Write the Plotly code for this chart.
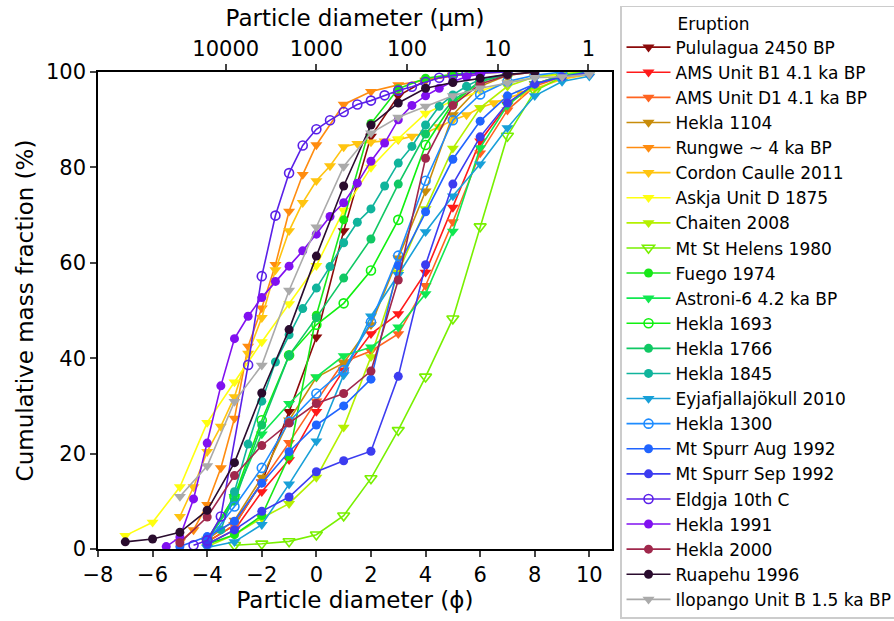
import math
import plotly.graph_objects as go

# Grain-size distributions: cumulative mass fraction (%) vs particle diameter (phi)
names = [
    "Pululagua 2450 BP", "AMS Unit B1 4.1 ka BP", "AMS Unit D1 4.1 ka BP", "Hekla 1104",
    "Rungwe ~ 4 ka BP", "Cordon Caulle 2011", "Askja Unit D 1875", "Chaiten 2008",
    "Mt St Helens 1980", "Fuego 1974", "Astroni-6 4.2 ka BP", "Hekla 1693", "Hekla 1766",
    "Hekla 1845", "Eyjafjallajökull 2010", "Hekla 1300", "Mt Spurr Aug 1992",
    "Mt Spurr Sep 1992", "Eldgja 10th C", "Hekla 1991", "Hekla 2000", "Ruapehu 1996",
    "Ilopango Unit B 1.5 ka BP",
]

pululagua_phi = [-4, -3, -2, -1, 0, 1, 2, 3, 4, 5, 6, 7]
pululagua_pct = [1.5, 5, 14, 28.8, 44.4, 66.7, 86.5, 95, 98.2, 99.3, 99.8, 100]

ams_b1_phi = [-4, -3, -2, -1, 0, 1, 2, 3, 4, 5, 6, 7, 8, 9, 10]
ams_b1_pct = [1, 4, 12, 18.7, 28.8, 37.5, 45.1, 49.3, 58, 71.6, 85.5, 93.2, 97.5, 99.3, 100]

ams_d1_phi = [-4, -3, -2, -1, 0, 1, 2, 3, 4, 5, 6, 7, 8, 9, 10]
ams_d1_pct = [1.5, 5, 14, 22.3, 31, 39.2, 41.5, 45.1, 55.2, 68.6, 83, 92, 97, 99, 100]

hekla1104_phi = [-4, -3, -2, -1, 0, 1, 2, 3, 4, 5, 6, 7, 8]
hekla1104_pct = [2, 6, 15, 27, 36, 39, 47, 61, 75, 91, 97, 99.3, 100]

rungwe_phi = [-5, -4.5, -4, -3.5, -3, -2.5, -2, -1.5, -1, -0.5, 0, 1, 2, 3, 4, 5, 6]
rungwe_pct = [1.5, 4, 9.3, 17, 27.4, 42.5, 50.5, 59.6, 70.8, 78.5, 84.7, 93.2, 95.9, 97.3, 98.3, 99.2, 99.8]

cordon_phi = [-5, -4.5, -4, -3.5, -3, -2.5, -2, -1.5, -1, -0.5, 0, 0.5, 1, 1.5, 2, 2.5, 3,
              3.5, 4, 4.5, 5, 5.5, 6, 6.5, 7, 7.5, 8, 9, 10]
cordon_pct = [6.8, 13, 20.4, 25.7, 31.9, 41, 48.5, 58.5, 66.7, 72.6, 77.2, 80.3, 84.3, 85, 85.3,
              85.5, 85.8, 86.5, 87.2, 88.5, 89.9, 91, 92.5, 93.5, 94.5, 95.5, 96.5, 98.5, 99.5]

askja_phi = [-7, -6, -5, -4, -3, -2, -1, 0, 1, 2, 3, 4, 5, 6, 7, 8, 9, 10]
askja_pct = [2.8, 5.6, 13, 26.5, 35, 43.4, 51.4, 59.4, 71, 80, 86, 91.3, 94, 96, 97.8, 98.8, 99.5, 100]

chaiten_phi = [-4, -3, -2, -1, 0, 1, 2, 3, 4, 5, 6, 7, 8, 9, 10]
chaiten_pct = [0.5, 3, 6.5, 9.5, 15, 25.5, 40.3, 58, 71.3, 84, 92.5, 97, 99, 99.7, 100]

helens_phi = [-3, -2, -1, 0, 1, 2, 3, 4, 5, 6, 7, 8, 9, 10]
helens_pct = [0.8, 1.1, 1.6, 3, 7, 14.8, 24.9, 36.1, 48.3, 67.6, 86.6, 96, 99, 100]

fuego_phi = [-4, -3, -2, -1, 0, 1, 2, 3, 4, 5, 6]
fuego_pct = [1, 3, 7, 19.5, 49, 69, 89.2, 96.5, 98.7, 99.5, 100]

astroni_phi = [-4, -3, -2, -1, 0, 1, 2, 3, 4, 5, 6, 7, 8, 9, 10]
astroni_pct = [1.5, 11, 24.1, 30.5, 36.1, 40.5, 42.3, 46.5, 53.5, 66.6, 84.1, 93, 97.5, 99.3, 100]

hekla1693_phi = [-4, -3, -2, -1, 0, 1, 2, 3, 4, 5, 6, 7]
hekla1693_pct = [2, 11, 27, 40.6, 47, 51.5, 58.4, 69, 84.7, 93.5, 98, 99.5]

hekla1766_phi = [-4, -3, -2, -1, 0, 1, 2, 3, 4, 5, 6, 7]
hekla1766_pct = [2, 10, 26, 40.6, 48.5, 56.8, 65, 76.5, 87, 94, 98, 99.5]

hekla1845_phi = [-3.5, -3, -2.5, -2, -1.5, -1, -0.5, 0, 0.5, 1, 1.5, 2, 2.5, 3, 3.5, 4, 4.5,
                 5, 5.5, 6, 7]
hekla1845_pct = [4, 12, 22, 31, 39.2, 44.9, 50.4, 54.7, 59.2, 64.2, 68.5, 71.3, 76.1, 80.9,
                 84.4, 88.9, 92.8, 95.2, 97, 98.5, 99.5]

eyja_phi = [-4, -3, -2, -1, 0, 1, 2, 3, 4, 5, 6, 7, 8, 9, 10]
eyja_pct = [0.3, 1.5, 5.1, 13.6, 22.6, 36.5, 48.8, 57.5, 66.5, 74, 80.7, 88.3, 95, 98, 99.1]

hekla1300_phi = [-4, -3, -2, -1, 0, 1, 2, 3, 4, 5, 6, 7, 8, 9]
hekla1300_pct = [1.5, 8.9, 17, 26.7, 32.6, 37.5, 47.6, 61.5, 77.2, 89.9, 95.3, 98, 99.3, 100]

spurr_aug_phi = [-5, -4, -3, -2, -1, 0, 1, 2, 3, 4, 5, 6, 7, 8, 9, 10]
spurr_aug_pct = [0.5, 2.6, 5.8, 13.8, 20.4, 26, 30, 35.6, 59.4, 70.7, 81.7, 89.7, 95, 97.5, 99, 99.7]

spurr_sep_phi = [-4, -3, -2, -1, 0, 1, 2, 3, 4, 5, 6, 7, 8, 9, 10]
spurr_sep_pct = [1, 4, 7.9, 10.9, 16.2, 18.5, 20.5, 36.2, 59.6, 76.5, 86.4, 93.5, 97.5, 99, 100]

eldgja_phi = [-4.5, -4, -3.5, -2.5, -2, -1.5, -1, -0.5, 0, 0.5, 1, 1.5, 2, 2.5, 3, 3.5, 4,
              4.5, 5, 5.5, 6, 7]
eldgja_pct = [0.8, 1.8, 6.8, 38.6, 57.2, 69.9, 78.8, 84.6, 88, 89.9, 91.6, 93.2, 94, 95.1,
              96.1, 96.9, 97.9, 98.8, 99.3, 99.6, 99.8, 100]

hekla1991_phi = [-5.5, -5, -4.5, -4, -3.5, -3, -2.5, -2, -1.5, -1, -0.5, 0, 0.5, 1, 1.5, 2,
                 2.5, 3, 3.5, 4, 4.5, 5, 5.5, 6]
hekla1991_pct = [0.5, 2.5, 10.5, 22.2, 34.2, 44.1, 48.8, 52.7, 56.1, 59.3, 62.5, 66, 69.7,
                 72.6, 76.7, 81.3, 85.1, 90, 93, 95, 96.6, 98, 99, 99.6]

hekla2000_phi = [-5, -4, -3, -2, -1, 0, 1, 2, 3, 4, 5, 6, 7, 8]
hekla2000_pct = [1.3, 6.7, 15.4, 21.7, 26.4, 30.5, 32.6, 37.3, 56.4, 81.9, 93, 97.5, 99.3, 100]

ruapehu_phi = [-7, -6, -5, -4, -3, -2, -1, 0, 1, 2, 3, 4, 5, 6, 7, 8]
ruapehu_pct = [1.5, 2.1, 3.5, 8.1, 18.1, 32.7, 46, 61.4, 76.1, 88.9, 93.5, 96.6, 97.8, 98.7, 99.5, 100]

ilopango_phi = [-5, -4, -3, -2, -1, 0, 1, 2, 3, 4, 5, 6, 7, 8, 9, 10]
ilopango_pct = [11, 17.4, 30.9, 38.5, 54.2, 67.5, 80.2, 87.2, 90.5, 92.8, 95, 96.6, 97.7, 98.8, 99, 99.5]

phis = [pululagua_phi, ams_b1_phi, ams_d1_phi, hekla1104_phi, rungwe_phi, cordon_phi,
        askja_phi, chaiten_phi, helens_phi, fuego_phi, astroni_phi, hekla1693_phi,
        hekla1766_phi, hekla1845_phi, eyja_phi, hekla1300_phi, spurr_aug_phi, spurr_sep_phi,
        eldgja_phi, hekla1991_phi, hekla2000_phi, ruapehu_phi, ilopango_phi]
pcts = [pululagua_pct, ams_b1_pct, ams_d1_pct, hekla1104_pct, rungwe_pct, cordon_pct,
        askja_pct, chaiten_pct, helens_pct, fuego_pct, astroni_pct, hekla1693_pct,
        hekla1766_pct, hekla1845_pct, eyja_pct, hekla1300_pct, spurr_aug_pct, spurr_sep_pct,
        eldgja_pct, hekla1991_pct, hekla2000_pct, ruapehu_pct, ilopango_pct]

colors = ["#8b0a0a", "#ff1a1a", "#ff6420", "#c88c0a", "#ff8c10", "#ffc410", "#ffff10",
          "#b4f000", "#78f000", "#18e818", "#10e850", "#10f010", "#10c864", "#10b49c",
          "#18a0d8", "#1e8cff", "#2064ff", "#3c3cf0", "#5a20e8", "#8010f0", "#a0284c",
          "#2a0c2e", "#aaaaaa"]
symbols = ["triangle-down"] * 8 + ["triangle-down-open", "circle", "triangle-down",
           "circle-open", "circle", "circle", "triangle-down", "circle-open", "circle",
           "circle", "circle-open", "circle", "circle", "circle", "triangle-down"]

font_family = "DejaVu Sans"

fig = go.Figure()
for name, x, y, c, s in zip(names, phis, pcts, colors, symbols):
    is_tri = s.startswith("triangle")
    is_open = s.endswith("open")
    fig.add_trace(go.Scatter(
        x=x, y=y, name=name, mode="lines+markers",
        line=dict(color=c, width=1.6),
        marker=dict(symbol=s, color=c, size=10.5 if is_tri else 9,
                    line=dict(color=c, width=1.6 if is_open else 0)),
    ))

# Secondary top axis: diameter in micrometres (phi = -log2(d / 1000 um))
um_ticks = [10000, 1000, 100, 10, 1]
um_phi = [-math.log2(d / 1000.0) for d in um_ticks]
fig.add_trace(go.Scatter(x=[-8, 10.83], y=[None, None], xaxis="x2", showlegend=False,
                         hoverinfo="skip", mode="lines"))

xrange = [-8, 10.83]
tickfont = dict(family=font_family, size=21, color="black")
titlefont = dict(family=font_family, size=23, color="black")

fig.update_layout(
    width=894, height=621,
    margin=dict(l=98, r=282, t=72, b=72, autoexpand=False),
    plot_bgcolor="white", paper_bgcolor="white",
    font=dict(family=font_family, color="black"),
    xaxis=dict(range=xrange, tickvals=list(range(-8, 11, 2)), showline=True, mirror=True,
               linecolor="black", linewidth=1.5, ticks="outside", ticklen=6, tickwidth=1.5,
               showgrid=False, zeroline=False, tickfont=tickfont,
               title=dict(text="Particle diameter (ϕ)", font=titlefont, standoff=6)),
    xaxis2=dict(range=xrange, overlaying="x", side="top", tickvals=um_phi,
                ticktext=[str(d) for d in um_ticks], showline=True, linecolor="black",
                linewidth=1.5, ticks="outside", ticklen=6, tickwidth=1.5, showgrid=False,
                zeroline=False, tickfont=tickfont,
                title=dict(text="Particle diameter (µm)", font=titlefont, standoff=4)),
    yaxis=dict(range=[0, 100], tickvals=list(range(0, 101, 20)), showline=True, mirror=True,
               linecolor="black", linewidth=1.5, ticks="outside", ticklen=6, tickwidth=1.5,
               showgrid=False, zeroline=False, tickfont=tickfont,
               title=dict(text="Cumulative mass fraction (%)", font=titlefont, standoff=6)),
    legend=dict(x=1.0156, y=1.1384, xanchor="left", yanchor="top",
                bordercolor="#cccccc", borderwidth=1.5, bgcolor="white",
                font=dict(family=font_family, size=17, color="black"),
                itemwidth=44, tracegroupgap=0, maxheight=640,
                title=dict(text="\u00a0" * 10 + "Eruption",
                           font=dict(family=font_family, size=17, color="black"))),
    showlegend=True,
)

fig.write_html("out.html")
